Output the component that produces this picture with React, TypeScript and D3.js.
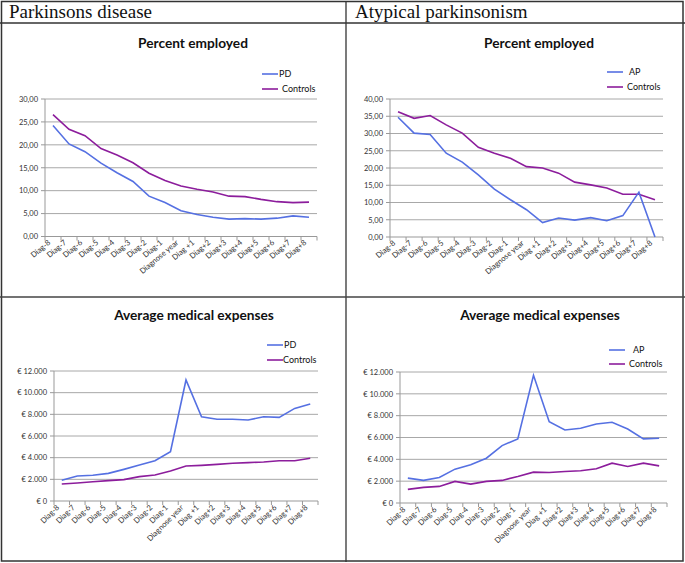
import React from "react";
import * as d3 from "d3";

const categories = [
  "Diag-8", "Diag-7", "Diag-6", "Diag-5", "Diag-4", "Diag-3", "Diag-2", "Diag-1",
  "Diagnose year", "Diag +1", "Diag+2", "Diag+3", "Diag+4", "Diag+5", "Diag+6", "Diag+7", "Diag+8",
];

const pdEmployed = [24.2, 20.2, 18.5, 16.0, 13.9, 12.0, 8.8, 7.4, 5.6, 4.8, 4.2, 3.8, 3.9, 3.8, 4.0, 4.5, 4.2];
const pdControlsEmployed = [26.6, 23.4, 22.0, 19.2, 17.8, 16.1, 13.8, 12.2, 11.0, 10.3, 9.7, 8.8, 8.7, 8.1, 7.6, 7.4, 7.5];
const apEmployed = [34.7, 30.1, 29.7, 24.3, 21.7, 18.0, 13.9, 10.8, 7.9, 4.2, 5.5, 4.9, 5.6, 4.7, 6.2, 13.0, 0.0];
const apControlsEmployed = [36.3, 34.4, 35.2, 32.5, 30.1, 26.0, 24.3, 22.8, 20.4, 20.0, 18.5, 15.9, 15.1, 14.2, 12.4, 12.4, 10.8];
const pdExpenses = [1910, 2310, 2370, 2550, 2920, 3320, 3720, 4550, 11170, 7780, 7540, 7540, 7480, 7780, 7720, 8550, 8950];
const pdControlsExpenses = [1570, 1660, 1780, 1880, 1970, 2250, 2400, 2770, 3230, 3290, 3380, 3480, 3540, 3600, 3720, 3720, 3940];
const apExpenses = [2280, 2070, 2340, 3100, 3500, 4100, 5260, 5870, 11700, 7450, 6690, 6840, 7230, 7390, 6780, 5870, 5930];
const apControlsExpenses = [1250, 1430, 1520, 1980, 1730, 1980, 2070, 2430, 2830, 2800, 2890, 2950, 3130, 3650, 3340, 3650, 3400];

const employedTicksPD = [0, 5, 10, 15, 20, 25, 30];
const employedTicksAP = [0, 5, 10, 15, 20, 25, 30, 35, 40];
const expenseTicks = [0, 2000, 4000, 6000, 8000, 10000, 12000];

const BLUE = "#5570e2";
const PURPLE = "#8c1d9c";
const SMALL_FONT = "Lato, 'Open Sans', sans-serif";

const fmtPct = (v: number) => v.toFixed(2).replace(".", ",");
const fmtEuro = (v: number) =>
  v === 0 ? "€ 0" : "€ " + Math.round(v).toString().replace(/\B(?=(\d{3})+(?!\d))/g, ".");

type ChartProps = {
  left: number; right: number; top: number; bottom: number;
  yMax: number; ticks: number[]; fmt: (v: number) => string;
  title: string; titleX: number; titleY: number;
  seriesA: number[]; seriesB: number[]; nameA: string;
  legX: number; legY1: number; legY2: number; legTextA: number; legTextB: number;
  rot: number;
};

function Chart(p: ChartProps) {
  const x = d3.scaleBand<string>().domain(categories).range([p.left, p.right]).padding(0);
  const y = d3.scaleLinear().domain([0, p.yMax]).range([p.bottom, p.top]);
  const cx = (c: string) => (x(c) as number) + x.bandwidth() / 2;
  const line = d3.line<number>().x((_, i) => cx(categories[i])).y((d) => y(d));
  const boundaries = categories.map((c) => x(c) as number).concat([p.right]);
  return (
    <g>
      <text x={p.titleX} y={p.titleY} textAnchor="middle" fontFamily={SMALL_FONT} fontWeight="bold" fontSize={13.7} fill="#111">
        {p.title}
      </text>
      {p.ticks.map((t) => (
        <g key={t}>
          {t !== 0 && <line x1={p.left} x2={p.right} y1={y(t)} y2={y(t)} stroke="#a8a8a8" strokeWidth={1} />}
          <line x1={p.left - 4} x2={p.left} y1={y(t)} y2={y(t)} stroke="#999" strokeWidth={1} />
          <text x={p.left - 7} y={y(t) + 2.8} textAnchor="end" fontFamily={SMALL_FONT} fontSize={7.5} fill="#333">
            {p.fmt(t)}
          </text>
        </g>
      ))}
      <line x1={p.left} x2={p.left} y1={p.top} y2={p.bottom} stroke="#999" strokeWidth={1} />
      <line x1={p.left} x2={p.right} y1={p.bottom} y2={p.bottom} stroke="#999" strokeWidth={1} />
      {boundaries.map((b, i) => (
        <line key={i} x1={b} x2={b} y1={p.bottom} y2={p.bottom + 4} stroke="#999" strokeWidth={1} />
      ))}
      {categories.map((c) => (
        <text key={c} transform={`translate(${cx(c) - 2},${p.bottom + 7}) rotate(${p.rot})`} textAnchor="end"
          fontFamily={SMALL_FONT} fontSize={7.7} fill="#333">
          {c}
        </text>
      ))}
      <path d={line(p.seriesB) || ""} fill="none" stroke={PURPLE} strokeWidth={1.6} />
      <path d={line(p.seriesA) || ""} fill="none" stroke={BLUE} strokeWidth={1.6} />
      <line x1={p.legX} x2={p.legX + 16} y1={p.legY1} y2={p.legY1} stroke={BLUE} strokeWidth={1.6} />
      <line x1={p.legX} x2={p.legX + 16} y1={p.legY2} y2={p.legY2} stroke={PURPLE} strokeWidth={1.6} />
      <text x={p.legTextA} y={p.legY1 + 3} fontFamily={SMALL_FONT} fontSize={9} fill="#111">{p.nameA}</text>
      <text x={p.legTextB} y={p.legY2 + 3} fontFamily={SMALL_FONT} fontSize={9} fill="#111">Controls</text>
    </g>
  );
}

export default function App() {
  return (
    <svg width={685} height={563} style={{ position: "absolute", left: 0, top: 0, background: "#fff" }}>
      <rect x={0} y={0} width={685} height={563} fill="#fff" />
      <rect x={1.5} y={1.5} width={681.5} height={559.5} fill="none" stroke="#333" strokeWidth={1.5} />
      <line x1={0} x2={685} y1={23} y2={23} stroke="#333" strokeWidth={1.3} />
      <line x1={346} x2={346} y1={1} y2={562} stroke="#333" strokeWidth={1.3} />
      <line x1={0} x2={685} y1={297} y2={297} stroke="#444" strokeWidth={1.3} />
      <text x={9} y={18} fontFamily="'Liberation Serif', 'Times New Roman', serif" fontSize={19} fill="#111">Parkinsons disease</text>
      <text x={355} y={18} fontFamily="'Liberation Serif', 'Times New Roman', serif" fontSize={19} fill="#111">Atypical parkinsonism</text>

      <Chart left={45} right={317} top={99} bottom={236.5} yMax={30} ticks={employedTicksPD} fmt={fmtPct}
        title="Percent employed" titleX={193} titleY={48}
        seriesA={pdEmployed} seriesB={pdControlsEmployed} nameA="PD"
        legX={262} legY1={74} legY2={89} legTextA={279} legTextB={282} rot={-40} />
      <Chart left={390} right={663} top={99} bottom={237} yMax={40} ticks={employedTicksAP} fmt={fmtPct}
        title="Percent employed" titleX={539} titleY={48}
        seriesA={apEmployed} seriesB={apControlsEmployed} nameA="AP"
        legX={607} legY1={72} legY2={87} legTextA={629} legTextB={627} rot={-40} />
      <Chart left={54} right={318} top={371} bottom={501} yMax={12000} ticks={expenseTicks} fmt={fmtEuro}
        title="Average medical expenses" titleX={194} titleY={320}
        seriesA={pdExpenses} seriesB={pdControlsExpenses} nameA="PD"
        legX={267} legY1={345} legY2={360} legTextA={284} legTextB={283} rot={-45} />
      <Chart left={400} right={667} top={372} bottom={503} yMax={12000} ticks={expenseTicks} fmt={fmtEuro}
        title="Average medical expenses" titleX={540} titleY={320}
        seriesA={apExpenses} seriesB={apControlsExpenses} nameA="AP"
        legX={609} legY1={350} legY2={364} legTextA={633} legTextB={629} rot={-45} />
    </svg>
  );
}
